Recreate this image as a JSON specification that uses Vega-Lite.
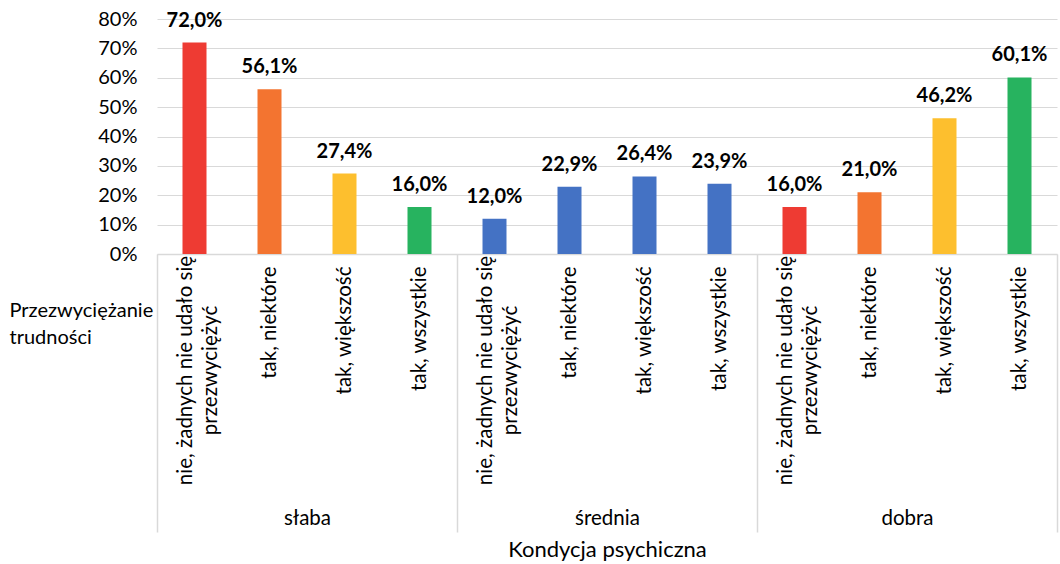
{
  "$schema": "https://vega.github.io/schema/vega-lite/v6.json",
  "width": 900,
  "height": 235,
  "autosize": {"type": "none"},
  "padding": {"left": 157, "top": 19, "right": 3, "bottom": 310},
  "config": {
    "font": "Lato",
    "view": {"stroke": null},
    "locale": {"number": {"decimal": ",", "thousands": " ", "grouping": [3], "currency": ["", " zł"]}},
    "axis": {"labelColor": "#000000", "titleColor": "#000000", "labelFont": "Lato", "titleFont": "Lato"}
  },
  "data": {
    "values": [
      {"kondycja": "słaba", "odp": "nie, żadnych nie udało się przezwyciężyć", "v": 0.720},
      {"kondycja": "słaba", "odp": "tak, niektóre", "v": 0.561},
      {"kondycja": "słaba", "odp": "tak, większość", "v": 0.274},
      {"kondycja": "słaba", "odp": "tak, wszystkie", "v": 0.160},
      {"kondycja": "średnia", "odp": "nie, żadnych nie udało się przezwyciężyć", "v": 0.120},
      {"kondycja": "średnia", "odp": "tak, niektóre", "v": 0.229},
      {"kondycja": "średnia", "odp": "tak, większość", "v": 0.264},
      {"kondycja": "średnia", "odp": "tak, wszystkie", "v": 0.239},
      {"kondycja": "dobra", "odp": "nie, żadnych nie udało się przezwyciężyć", "v": 0.160},
      {"kondycja": "dobra", "odp": "tak, niektóre", "v": 0.210},
      {"kondycja": "dobra", "odp": "tak, większość", "v": 0.462},
      {"kondycja": "dobra", "odp": "tak, wszystkie", "v": 0.601}
    ]
  },
  "transform": [{"calculate": "datum.kondycja + '|' + datum.odp", "as": "key"}],
  "layer": [
    {
      "encoding": {
        "x": {
          "field": "key",
          "type": "nominal",
          "sort": null,
          "scale": {"paddingInner": 0.68, "paddingOuter": 0.34},
          "axis": {
            "orient": "bottom",
            "title": ["Przezwyciężanie", "trudności"],
            "titleAngle": 0,
            "titleAlign": "left",
            "titleBaseline": "alphabetic",
            "titleX": -148,
            "titleY": 62,
            "titleFontSize": 20,
            "titleFontWeight": "normal",
            "titleLineHeight": 27,
            "labelAngle": -90,
            "labelFontSize": 20.5,
            "labelLineHeight": 25,
            "labelLimit": 0,
            "labelOverlap": false,
            "labelAlign": {"condition": {"test": "indexof(datum.value, 'nie,') >= 0", "value": "center"}, "value": "right"},
            "labelPadding": {"condition": {"test": "indexof(datum.value, 'nie,') >= 0", "value": 116}, "value": 12},
            "labelOffset": {"condition": {"test": "indexof(datum.value, 'nie,') >= 0", "value": -9}, "value": 0},
            "labelExpr": "split(datum.value, '|')[1] == 'nie, żadnych nie udało się przezwyciężyć' ? ['nie, żadnych nie udało się', 'przezwyciężyć'] : split(datum.value, '|')[1]",
            "ticks": false,
            "domain": false,
            "grid": false
          }
        },
        "y": {
          "field": "v",
          "type": "quantitative",
          "scale": {"domain": [0, 0.8], "nice": false},
          "axis": {
            "values": [0, 0.1, 0.2, 0.3, 0.4, 0.5, 0.6, 0.7, 0.8],
            "format": ".0%",
            "title": null,
            "domain": false,
            "ticks": false,
            "labelPadding": 20,
            "labelFontSize": 20,
            "gridColor": "#D9D9D9",
            "gridWidth": 1.2
          }
        }
      },
      "layer": [
        {
          "mark": {"type": "bar"},
          "encoding": {
            "color": {
              "condition": {"test": "datum.kondycja === 'średnia'", "value": "#4472C4"},
              "field": "odp",
              "type": "nominal",
              "scale": {
                "domain": ["nie, żadnych nie udało się przezwyciężyć", "tak, niektóre", "tak, większość", "tak, wszystkie"],
                "range": ["#EE3B33", "#F37430", "#FDBF2E", "#27B35F"]
              },
              "legend": null
            }
          }
        },
        {
          "mark": {"type": "text", "dy": -16, "fontWeight": "bold", "fontSize": 20, "baseline": "alphabetic", "color": "#000000"},
          "encoding": {
            "text": {"field": "v", "type": "quantitative", "format": ".1%"}
          }
        }
      ]
    },
    {
      "mark": {"type": "rule", "opacity": 0},
      "encoding": {
        "x": {
          "field": "kondycja",
          "type": "nominal",
          "sort": null,
          "scale": {"padding": 0},
          "axis": {
            "orient": "bottom",
            "title": "Kondycja psychiczna",
            "titleFontSize": 22,
            "titleFontWeight": "normal",
            "titleBaseline": "alphabetic",
            "titleY": 302,
            "tickBand": "extent",
            "tickSize": 278,
            "tickColor": "#D9D9D9",
            "tickWidth": 1.5,
            "domain": true,
            "domainColor": "#D9D9D9",
            "domainWidth": 1.5,
            "labelAngle": 0,
            "labelFontSize": 20.5,
            "labelBaseline": "alphabetic",
            "labelPadding": -8,
            "grid": false
          }
        }
      }
    }
  ],
  "resolve": {"scale": {"x": "independent"}}
}
